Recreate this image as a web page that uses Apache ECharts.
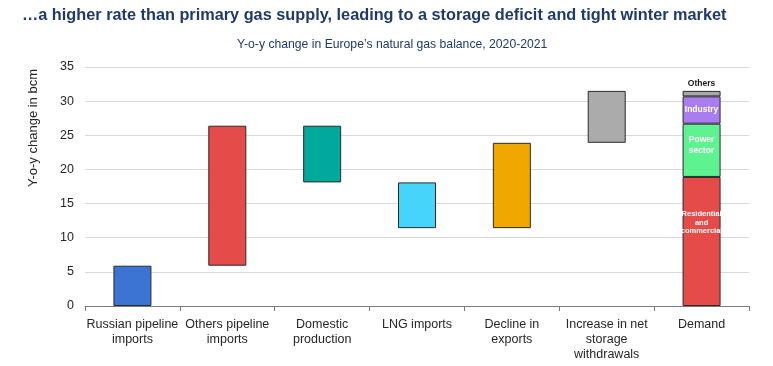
<!DOCTYPE html>
<html>
<head>
<meta charset="utf-8">
<script src="https://cdn.jsdelivr.net/npm/echarts@6/dist/echarts.min.js"></script>
<style>
html,body{margin:0;padding:0;background:#fff;}
#chart{width:773px;height:366px;}
</style>
</head>
<body>
<div id="chart"></div>
<script>
// Categories (x axis)
var categories = ['Russian pipeline\nimports', 'Others pipeline\nimports', 'Domestic\nproduction', 'LNG imports', 'Decline in\nexports', 'Increase in net\nstorage\nwithdrawals', 'Demand'];
// Waterfall supply steps: bottom and top of each floating bar (bcm)
var stepLow  = [0,   5.9, 18.1, 11.4, 11.4, 23.9, 0];
var stepHigh = [5.9, 26.4, 26.4, 18.1, 23.9, 31.5, 0];
// Demand breakdown (bcm)
var demandResidential = 18.9;
var demandPower = 7.8;
var demandIndustry = 4.0;
var demandOthers = 0.8;
// Y axis ticks
var yMin = 0, yMax = 35, yStep = 5;

var stepColors = ['#3c74d4', '#e44b49', '#00a99c', '#47d4fb', '#f0a800', '#ababab', '#e44b49'];

var n = categories.length;
var baseData = stepLow.map(function (v) { return v; });
var stepData = stepHigh.map(function (h, i) {
  if (i === n - 1) return '-';
  return { value: +(h - stepLow[i]).toFixed(2), itemStyle: { color: stepColors[i] } };
});
function demandOnly(v) {
  var a = [];
  for (var i = 0; i < n; i++) a.push(i === n - 1 ? v : '-');
  return a;
}

var FONT = 'Liberation Sans, Arial, sans-serif';
var border = { borderColor: '#2a2a2a', borderWidth: 1 };

var chart = echarts.init(document.getElementById('chart'), null, { renderer: 'canvas' });
chart.setOption({
  animation: false,
  backgroundColor: '#ffffff',
  title: [{
    text: '\u2026a higher rate than primary gas supply, leading to a storage deficit and tight winter market',
    left: 22, top: 8, padding: 0,
    textStyle: { fontFamily: FONT, fontSize: 16.3, fontWeight: 'bold', color: '#203a6b' }
  }, {
    text: 'Y-o-y change in Europe\u2019s natural gas balance, 2020-2021',
    left: 237, top: 39, padding: 0,
    textStyle: { fontFamily: FONT, fontSize: 12.2, fontWeight: 'normal', color: '#203a6b' }
  }],
  graphic: [{
    type: 'text',
    x: 33, y: 128,
    rotation: Math.PI / 2,
    style: {
      text: 'Y-o-y change in bcm',
      fontFamily: FONT, fontSize: 13, fill: '#262626',
      align: 'center', verticalAlign: 'middle'
    }
  }],
  grid: { left: 85, right: 24, top: 67, bottom: 60, containLabel: false },
  xAxis: {
    type: 'category',
    data: categories,
    axisLine: { lineStyle: { color: '#7a7a7a', width: 1 } },
    axisTick: { show: true, length: 5, lineStyle: { color: '#7a7a7a' } },
    axisLabel: { interval: 0, margin: 11, fontFamily: FONT, fontSize: 12.5, color: '#262626', lineHeight: 15 }
  },
  yAxis: {
    type: 'value',
    min: yMin, max: yMax, interval: yStep,
    axisLine: { show: false },
    axisTick: { show: false },
    splitLine: { lineStyle: { color: '#d9d9d9', width: 1 } },
    axisLabel: { margin: 11, fontFamily: FONT, fontSize: 12.5, color: '#262626' }
  },
  series: [
    {
      name: 'base', type: 'bar', stack: 'w', barWidth: 38,
      itemStyle: { color: 'transparent', borderWidth: 0 },
      emphasis: { disabled: true },
      data: baseData
    },
    {
      name: 'step', type: 'bar', stack: 'w', barWidth: 38,
      itemStyle: border,
      data: stepData
    },
    {
      name: 'Residential and commercial', type: 'bar', stack: 'w', barWidth: 38,
      itemStyle: Object.assign({ color: '#e44b49' }, border),
      label: { show: true, position: 'inside', offset: [0, -19], formatter: 'Residential\nand\ncommercial',
        fontFamily: FONT, fontSize: 7.5, fontWeight: 'bold', color: '#ffffff', lineHeight: 8.3 },
      data: demandOnly(demandResidential)
    },
    {
      name: 'Power sector', type: 'bar', stack: 'w', barWidth: 38,
      itemStyle: Object.assign({ color: '#5ef291' }, border),
      label: { show: true, position: 'inside', offset: [0, -5], formatter: 'Power\nsector',
        fontFamily: FONT, fontSize: 8.5, fontWeight: 'bold', color: '#ffffff', lineHeight: 11 },
      data: demandOnly(demandPower)
    },
    {
      name: 'Industry', type: 'bar', stack: 'w', barWidth: 38,
      itemStyle: Object.assign({ color: '#a97cf0' }, border),
      label: { show: true, position: 'inside', formatter: 'Industry',
        fontFamily: FONT, fontSize: 8.5, fontWeight: 'bold', color: '#ffffff' },
      data: demandOnly(demandIndustry)
    },
    {
      name: 'Others', type: 'bar', stack: 'w', barWidth: 38,
      itemStyle: Object.assign({ color: '#a8a8a8' }, border),
      label: { show: true, position: 'top', distance: 3, formatter: 'Others',
        fontFamily: FONT, fontSize: 8.5, fontWeight: 'bold', color: '#1a1a1a' },
      data: demandOnly(demandOthers)
    }
  ]
});
</script>
</body>
</html>
